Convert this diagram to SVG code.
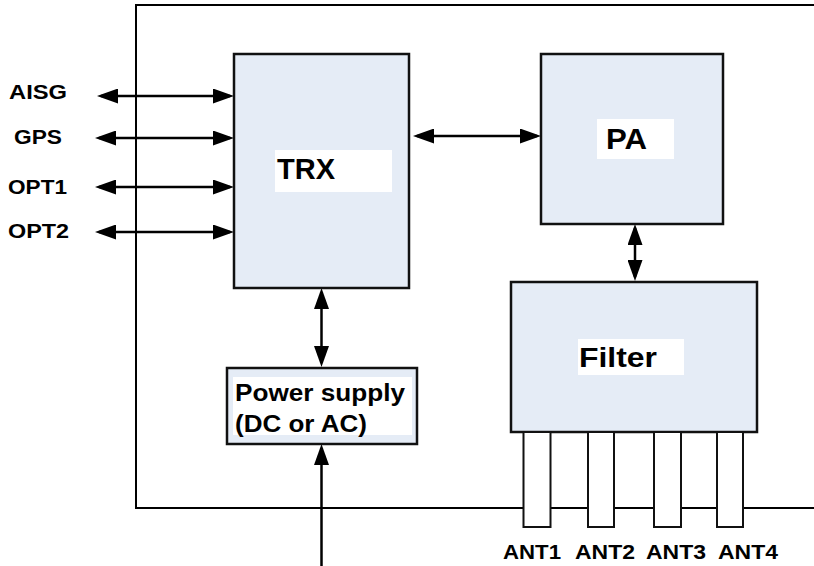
<svg xmlns="http://www.w3.org/2000/svg" width="814" height="566" viewBox="0 0 814 566">
<style>
.box{fill:#E5ECF6;stroke:#111;stroke-width:2.5}
.lbl{fill:#fff;stroke:none}
.t{font-family:"Liberation Sans",Arial,sans-serif;font-weight:bold;fill:#000}
.big{font-size:29px}
.sm{font-size:21px}
.ps{font-size:23px}
.conn{stroke:#000;stroke-width:2.5;fill:none}
.frame{stroke:#000;stroke-width:2;fill:none}
.stub{fill:#fff;stroke:#111;stroke-width:2}
</style>
<defs>
<marker id="ah" markerUnits="userSpaceOnUse" markerWidth="21" markerHeight="15" refX="17" refY="7.5" orient="auto-start-reverse">
<path d="M0,0 L21,7.5 L0,15 Z" fill="#000"/>
</marker>
</defs>
<rect width="814" height="566" fill="#fff"/>
<polyline class="frame" points="814,5 136,5 136,508 814,508"/>
<g id="connectors">
<line class="conn" x1="101" y1="96" x2="230" y2="96" marker-start="url(#ah)" marker-end="url(#ah)"/>
<line class="conn" x1="99" y1="138" x2="230" y2="138" marker-start="url(#ah)" marker-end="url(#ah)"/>
<line class="conn" x1="99" y1="187" x2="230" y2="187" marker-start="url(#ah)" marker-end="url(#ah)"/>
<line class="conn" x1="99" y1="232" x2="230" y2="232" marker-start="url(#ah)" marker-end="url(#ah)"/>
<line class="conn" x1="417" y1="136" x2="537" y2="136" marker-start="url(#ah)" marker-end="url(#ah)"/>
<line class="conn" x1="635" y1="228" x2="635" y2="277" marker-start="url(#ah)" marker-end="url(#ah)"/>
<line class="conn" x1="321.5" y1="292" x2="321.5" y2="363" marker-start="url(#ah)" marker-end="url(#ah)"/>
<line class="conn" x1="321.5" y1="566" x2="321.5" y2="448" marker-end="url(#ah)"/>
</g>
<g id="labels-left">
<text class="t sm" x="9" y="99" textLength="58" lengthAdjust="spacingAndGlyphs">AISG</text>
<text class="t sm" x="14" y="144" textLength="48" lengthAdjust="spacingAndGlyphs">GPS</text>
<text class="t sm" x="8" y="194" textLength="59" lengthAdjust="spacingAndGlyphs">OPT1</text>
<text class="t sm" x="8" y="238" textLength="61" lengthAdjust="spacingAndGlyphs">OPT2</text>
</g>
<g id="trx">
<rect class="box" x="234" y="54" width="175" height="234"/>
<rect class="lbl" x="275" y="150" width="117" height="42"/>
<text class="t big" x="277" y="179" textLength="58" lengthAdjust="spacingAndGlyphs">TRX</text>
</g>
<g id="pa">
<rect class="box" x="541" y="54" width="182" height="170"/>
<rect class="lbl" x="597" y="119" width="77" height="40"/>
<text class="t big" x="606" y="149" textLength="41" lengthAdjust="spacingAndGlyphs">PA</text>
</g>
<g id="filter">
<rect class="box" x="511" y="282" width="246" height="150"/>
<rect class="lbl" x="578" y="339" width="106" height="36"/>
<text class="t" style="font-size:28px" x="579" y="367" textLength="78" lengthAdjust="spacingAndGlyphs">Filter</text>
</g>
<g id="antennas">
<rect class="stub" x="523.5" y="432" width="27" height="95"/>
<rect class="stub" x="588" y="432" width="26" height="95"/>
<rect class="stub" x="654" y="432" width="27" height="95"/>
<rect class="stub" x="717" y="432" width="26" height="95"/>
<text class="t sm" x="503" y="559" textLength="58" lengthAdjust="spacingAndGlyphs">ANT1</text>
<text class="t sm" x="575" y="559" textLength="60" lengthAdjust="spacingAndGlyphs">ANT2</text>
<text class="t sm" x="646" y="559" textLength="60" lengthAdjust="spacingAndGlyphs">ANT3</text>
<text class="t sm" x="718" y="559" textLength="60" lengthAdjust="spacingAndGlyphs">ANT4</text>
</g>
<g id="power">
<rect class="box" x="227" y="368" width="190" height="76"/>
<rect class="lbl" x="233" y="377" width="179" height="58"/>
<text class="t ps" x="235" y="401" textLength="170" lengthAdjust="spacingAndGlyphs">Power supply</text>
<text class="t ps" x="235" y="432" textLength="132" lengthAdjust="spacingAndGlyphs">(DC or AC)</text>
</g>
</svg>
